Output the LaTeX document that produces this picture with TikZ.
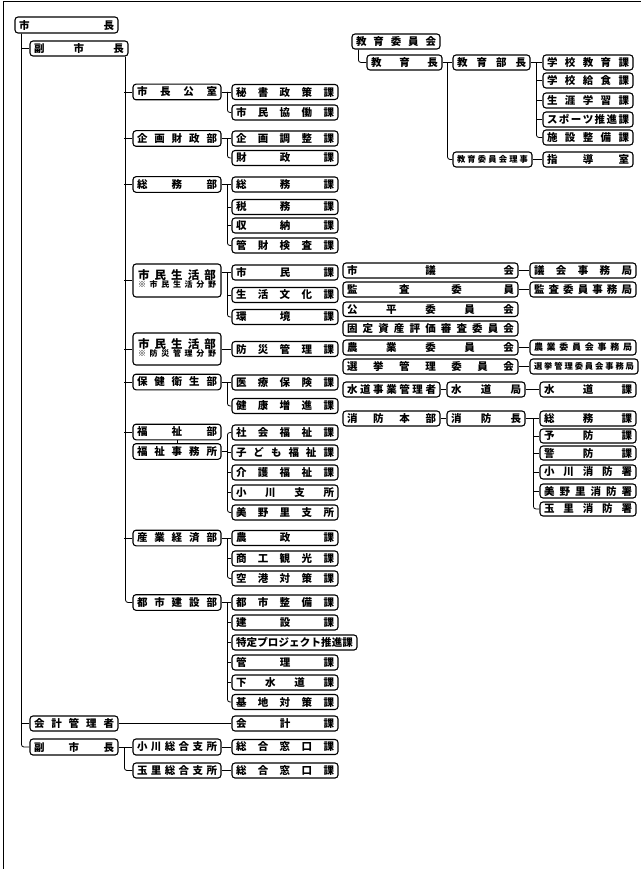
\documentclass[tikz,border=0pt]{standalone}
\usepackage{fontspec}
\IfFontExistsTF{Noto Sans CJK JP Black}{\setmainfont{Noto Sans CJK JP Black}}{%
  \IfFontExistsTF{Noto Sans CJK JP Bold}{\setmainfont{Noto Sans CJK JP Bold}}{%
    \setmainfont{Noto Sans CJK JP}[FakeBold=3]}}
\makeatletter
\def\spr@a#1{#1\spr@b}
\def\spr@b#1{\ifx#1\relax\else\hfill#1\expandafter\spr@b\fi}
\newcommand\spreadtxt[1]{\spr@a#1\relax}
\makeatother
\tikzset{
  box/.style={draw=black,line width=1.1pt,rounded corners=3pt,inner sep=0pt,fill=white,
    font=\fontsize{10.5}{11}\selectfont},
  conn/.style={draw=black,line width=0.8pt,rounded corners=2.5pt},
  small/.style={font=\fontsize{9}{9}\selectfont},
  tiny/.style={font=\fontsize{8.3}{9}\selectfont}
}
% box: [opts]{name}{x1}{y1}{x2}{y2}{text}
\newcommand\bx[7][]{%
  \node[box,minimum width={(#5-#3)*1pt},minimum height={(#6-#4)*1pt},#1] (#2)
    at ({(#3+#5)/2},{(#4+#6)/2}) {\makebox[\dimexpr #5pt-#3pt-8pt\relax][s]{\spreadtxt{#7}}};}
% section box at x 232-338
\newcommand\sect[4][]{\bx[#1]{#2}{232}{(#3-7.5)}{338}{(#3+7.5)}{#4}}
% department box at x 133-221
\newcommand\dept[4][]{\bx[#1]{#2}{133}{(#3-7.8)}{221}{(#3+7.8)}{#4}}
% two-line department box
\newcommand\ddept[5]{%
  \node[box,minimum width=88pt,minimum height={(#4-#3)*1pt}] (#1) at (177,{(#3+#4)/2})
  {\begin{tabular}{@{}c@{}}{\fontsize{11.5}{12}\selectfont\makebox[78pt][s]{\spreadtxt{#2}}}\\[-3pt]
   {\fontsize{8}{9}\selectfont\makebox[78pt][s]{\spreadtxt{#5}}}\end{tabular}};}
\begin{document}
\begin{tikzpicture}[x=1pt,y=-1pt]
\useasboundingbox (0,0) rectangle (641,869);
% frame
\draw[line width=1pt] (3,869) -- (3,1.5) -- (641,1.5);

% ---------- left part ----------
\bx{shicho}{15}{17}{118}{33}{市長}
\bx{fuku1}{30}{41}{128}{56}{副市長}
\bx{kaikeikan}{30}{716}{118}{731}{会計管理者}
\bx{fuku2}{30}{739}{118}{755}{副市長}

\dept{d1}{92}{市長公室}
\dept{d2}{138.5}{企画財政部}
\dept{d3}{184.5}{総務部}
\ddept{d4}{市民生活部}{264}{297}{※市民生活分野}
\ddept{d5}{市民生活部}{333}{365}{※防災管理分野}
\dept{d6}{382}{保健衛生部}
\dept{d7}{432}{福祉部}
\dept{d7b}{451.5}{福祉事務所}
\dept{d8}{538}{産業経済部}
\dept{d9}{602.5}{都市建設部}
\bx{og}{133}{739}{221}{755}{小川総合支所}
\bx{tm}{133}{763}{221}{778}{玉里総合支所}

\sect{s11}{92}{秘書政策課}
\sect{s12}{112.5}{市民協働課}
\sect{s21}{138.5}{企画調整課}
\sect{s22}{158}{財政課}
\sect{s31}{184.5}{総務課}
\sect{s32}{207}{税務課}
\sect{s33}{225.5}{収納課}
\sect{s34}{245.5}{管財検査課}
\sect{s41}{272.5}{市民課}
\sect{s42}{295}{生活文化課}
\sect{s43}{317}{環境課}
\sect{s51}{349}{防災管理課}
\sect{s61}{382.5}{医療保険課}
\sect{s62}{406}{健康増進課}
\sect{s71}{432.5}{社会福祉課}
\sect{s72}{452.5}{子ども福祉課}
\sect{s73}{472.5}{介護福祉課}
\sect{s74}{492.5}{小川支所}
\sect{s75}{512.5}{美野里支所}
\sect{s81}{538}{農政課}
\sect{s82}{558.5}{商工観光課}
\sect{s83}{578.5}{空港対策課}
\sect{s91}{602.5}{都市整備課}
\sect{s92}{622.5}{建設課}
\bx{s93}{232}{635}{357}{650}{特定プロジェクト推進課}
\sect{s94}{662.5}{管理課}
\sect{s95}{682.5}{下水道課}
\sect{s96}{702}{基地対策課}
\sect{kaikei}{723.5}{会計課}
\sect{sg1}{747}{総合窓口課}
\sect{sg2}{770.5}{総合窓口課}

% trunks
\draw[conn] ([xshift=7pt]shicho.south west) |- (fuku2.west);
\draw[conn] (fuku1.west) -- ++(-8,0);
\draw[conn] (kaikeikan.west) -- ++(-8,0);
\draw[conn] ([xshift=-3pt]fuku1.south east) |- (d9.west);
\foreach \d in {d1,d2,d3,d4,d5,d6,d7,d8} \draw[conn] (\d.west) -- ++(-8,0);
\draw[conn] (d7.south) -- (d7b.north);

% department -> sections
\newcommand\grp[4]{%
  \draw[conn] (#2.west -| #1.east) -- (#2.west);
  \draw[conn] ([xshift=-4pt]#2.west) |- (#3.west);
  \foreach \m in {#4} \draw[conn] (\m.west) -- ++(-4,0);}
\grp{d1}{s11}{s12}{}
\grp{d2}{s21}{s22}{}
\grp{d3}{s31}{s34}{s32,s33}
\grp{d4}{s41}{s43}{s42}
\draw[conn] (d5.east |- s51.west) -- (s51.west);
\grp{d6}{s61}{s62}{}
\coordinate (fx) at ([xshift=-4pt]s71.west);
\draw[conn] (s71.west) -- (fx) |- (s75.west);
\draw[conn] (d7b.east) -- (d7b.east -| fx);
\foreach \m in {s72,s73,s74} \draw[conn] (\m.west) -- ++(-4,0);
\grp{d8}{s81}{s83}{s82}
\grp{d9}{s91}{s96}{s92,s93,s94,s95}
\draw[conn] (kaikeikan.east) -- (kaikei.west);
\draw[conn] (fuku2.east) -- (og.west);
\draw[conn] ([xshift=-8pt]og.west) |- (tm.west);
\draw[conn] (og.east) -- (sg1.west);
\draw[conn] (tm.east) -- (sg2.west);

% ---------- right part ----------
\bx{kyoi}{352}{34}{440}{49}{教育委員会}
\bx{kyoucho}{367}{55}{442}{70}{教育長}
\bx{kbucho}{453}{55}{530}{70}{教育部長}
\bx{gk1}{543}{55}{633}{70}{学校教育課}
\bx{gk2}{543}{73}{633}{88}{学校給食課}
\bx{gk3}{543}{93}{633}{108}{生涯学習課}
\bx{gk4}{543}{112}{633}{127}{スポーツ推進課}
\bx{gk5}{543}{130}{633}{145}{施設整備課}
\bx[tiny]{riji}{453}{152}{532}{167}{教育委員会理事}
\bx{shido}{543}{152}{633}{167}{指導室}

\draw[conn] ([xshift=7pt]kyoi.south west) |- (kyoucho.west);
\draw[conn] (kyoucho.east) -- (kbucho.west);
\draw[conn] ([xshift=5pt]kyoucho.east) |- (riji.west);
\draw[conn] (kbucho.east) -- (gk1.west);
\draw[conn] ([xshift=-6pt]gk1.west) |- (gk5.west);
\foreach \m in {gk2,gk3,gk4} \draw[conn] (\m.west) -- ++(-6,0);
\draw[conn] (riji.east) -- (shido.west);

\bx{shigikai}{343}{263}{518}{278}{市議会}
\bx{gikaijim}{530}{263}{636}{278}{議会事務局}
\bx{kansa}{343}{282}{518}{297}{監査委員}
\bx{kansajim}{530}{282}{636}{297}{監査委員事務局}
\bx{kohei}{343}{302}{518}{316.5}{公平委員会}
\bx{kotei}{343}{321}{518}{336}{固定資産評価審査委員会}
\bx{nogyo}{343}{340}{518}{355}{農業委員会}
\bx[small]{nogyojim}{530}{340}{636}{355}{農業委員会事務局}
\bx{senkyo}{343}{359}{518}{374}{選挙管理委員会}
\bx[tiny]{senkyojim}{530}{359}{638}{374}{選挙管理委員会事務局}
\draw[conn] (shigikai.east) -- (gikaijim.west);
\draw[conn] (kansa.east) -- (kansajim.west);
\draw[conn] (nogyo.east) -- (nogyojim.west);
\draw[conn] (senkyo.east) -- (senkyojim.west);

\bx{suidoukan}{343}{382}{440}{397}{水道事業管理者}
\bx{suidokyoku}{447}{382}{525}{397}{水道局}
\bx{suidoka}{540}{382}{636}{397}{水道課}
\draw[conn] (suidoukan.east) -- (suidokyoku.west);
\draw[conn] (suidokyoku.east) -- (suidoka.west);

\bx{shobo}{343}{411}{440}{426}{消防本部}
\bx{shocho}{447}{411}{525}{426}{消防長}
\bx{fs1}{540}{411}{636}{426}{総務課}
\bx{fs2}{540}{429}{636}{443}{予防課}
\bx{fs3}{540}{446}{636}{460}{警防課}
\bx{fs4}{540}{465}{636}{479}{小川消防署}
\bx{fs5}{540}{484}{636}{498}{美野里消防署}
\bx{fs6}{540}{502}{636}{516}{玉里消防署}
\draw[conn] (shobo.east) -- (shocho.west);
\draw[conn] (shocho.east) -- (fs1.west);
\draw[conn] ([xshift=-6pt]fs1.west) |- (fs6.west);
\foreach \m in {fs2,fs3,fs4,fs5} \draw[conn] (\m.west) -- ++(-6,0);
\end{tikzpicture}
\end{document}
